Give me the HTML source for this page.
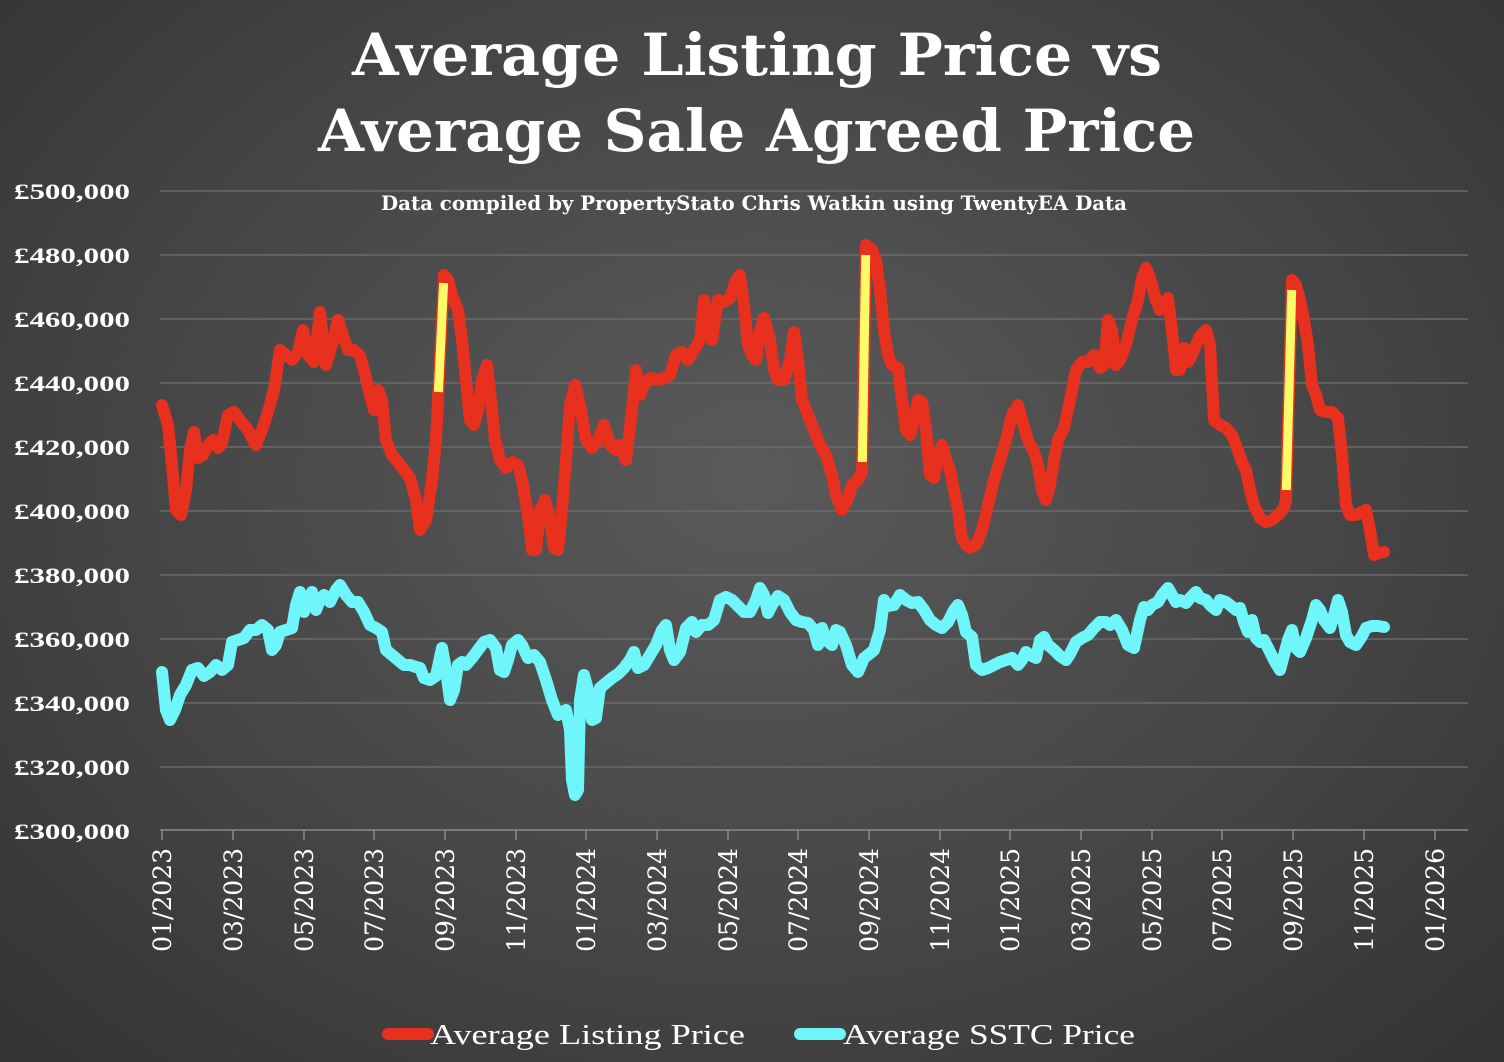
<!DOCTYPE html>
<html><head><meta charset="utf-8"><style>
html,body{margin:0;padding:0;}
body{width:1504px;height:1062px;overflow:hidden;background:radial-gradient(ellipse at 50% 45%,#5a5a5a 0%,#464646 55%,#333 100%);}
svg{display:block}
</style></head><body>
<svg width="1504" height="1062" xmlns="http://www.w3.org/2000/svg" font-family="'DejaVu Serif','Liberation Serif',serif">
<text x="352" y="75" textLength="810" lengthAdjust="spacingAndGlyphs" fill="#fff" font-size="58" font-weight="bold">Average Listing Price vs</text>
<text x="318" y="151" textLength="877" lengthAdjust="spacingAndGlyphs" fill="#fff" font-size="58" font-weight="bold">Average Sale Agreed Price</text>
<text x="381" y="210" textLength="746" lengthAdjust="spacingAndGlyphs" fill="#fff" font-size="20" font-weight="bold">Data compiled by PropertyStato Chris Watkin using TwentyEA Data</text>
<g stroke="#6a6a6a" stroke-width="1.5">
<line x1="160" y1="191" x2="1468" y2="191"/><line x1="160" y1="255" x2="1468" y2="255"/><line x1="160" y1="319" x2="1468" y2="319"/><line x1="160" y1="383" x2="1468" y2="383"/><line x1="160" y1="447" x2="1468" y2="447"/><line x1="160" y1="511" x2="1468" y2="511"/><line x1="160" y1="575" x2="1468" y2="575"/><line x1="160" y1="639" x2="1468" y2="639"/><line x1="160" y1="703" x2="1468" y2="703"/><line x1="160" y1="767" x2="1468" y2="767"/>
</g>
<g stroke="#8a8a8a" stroke-width="1.5">
<line x1="160" y1="830" x2="1468" y2="830"/>
<line x1="162" y1="830" x2="162" y2="840"/><line x1="233" y1="830" x2="233" y2="840"/><line x1="304" y1="830" x2="304" y2="840"/><line x1="374" y1="830" x2="374" y2="840"/><line x1="445" y1="830" x2="445" y2="840"/><line x1="516" y1="830" x2="516" y2="840"/><line x1="586" y1="830" x2="586" y2="840"/><line x1="657" y1="830" x2="657" y2="840"/><line x1="728" y1="830" x2="728" y2="840"/><line x1="798" y1="830" x2="798" y2="840"/><line x1="869" y1="830" x2="869" y2="840"/><line x1="940" y1="830" x2="940" y2="840"/><line x1="1010" y1="830" x2="1010" y2="840"/><line x1="1081" y1="830" x2="1081" y2="840"/><line x1="1152" y1="830" x2="1152" y2="840"/><line x1="1222" y1="830" x2="1222" y2="840"/><line x1="1293" y1="830" x2="1293" y2="840"/><line x1="1364" y1="830" x2="1364" y2="840"/><line x1="1435" y1="830" x2="1435" y2="840"/>
</g>
<g fill="#fff" font-size="22" font-weight="bold" text-anchor="start" font-family="'Liberation Serif',serif">
<text x="14" y="199" textLength="116" lengthAdjust="spacingAndGlyphs">£500,000</text><text x="14" y="263" textLength="116" lengthAdjust="spacingAndGlyphs">£480,000</text><text x="14" y="327" textLength="116" lengthAdjust="spacingAndGlyphs">£460,000</text><text x="14" y="391" textLength="116" lengthAdjust="spacingAndGlyphs">£440,000</text><text x="14" y="455" textLength="116" lengthAdjust="spacingAndGlyphs">£420,000</text><text x="14" y="519" textLength="116" lengthAdjust="spacingAndGlyphs">£400,000</text><text x="14" y="583" textLength="116" lengthAdjust="spacingAndGlyphs">£380,000</text><text x="14" y="647" textLength="116" lengthAdjust="spacingAndGlyphs">£360,000</text><text x="14" y="711" textLength="116" lengthAdjust="spacingAndGlyphs">£340,000</text><text x="14" y="775" textLength="116" lengthAdjust="spacingAndGlyphs">£320,000</text><text x="14" y="839" textLength="116" lengthAdjust="spacingAndGlyphs">£300,000</text>
</g>
<g fill="#fff" font-size="25" text-anchor="end">
<text transform="translate(171,848) rotate(-90)">01/2023</text><text transform="translate(242,848) rotate(-90)">03/2023</text><text transform="translate(313,848) rotate(-90)">05/2023</text><text transform="translate(383,848) rotate(-90)">07/2023</text><text transform="translate(454,848) rotate(-90)">09/2023</text><text transform="translate(525,848) rotate(-90)">11/2023</text><text transform="translate(595,848) rotate(-90)">01/2024</text><text transform="translate(666,848) rotate(-90)">03/2024</text><text transform="translate(737,848) rotate(-90)">05/2024</text><text transform="translate(807,848) rotate(-90)">07/2024</text><text transform="translate(878,848) rotate(-90)">09/2024</text><text transform="translate(949,848) rotate(-90)">11/2024</text><text transform="translate(1019,848) rotate(-90)">01/2025</text><text transform="translate(1090,848) rotate(-90)">03/2025</text><text transform="translate(1161,848) rotate(-90)">05/2025</text><text transform="translate(1231,848) rotate(-90)">07/2025</text><text transform="translate(1302,848) rotate(-90)">09/2025</text><text transform="translate(1373,848) rotate(-90)">11/2025</text><text transform="translate(1444,848) rotate(-90)">01/2026</text>
</g>
<polyline fill="none" stroke="#6ff6fb" stroke-width="12" stroke-linejoin="round" stroke-linecap="round" points="162,672 166,710 170,720 175,710 180,695 186,685 192,670 198,668 204,676 210,672 216,665 222,670 228,665 232,642 238,640 244,638 250,630 256,630 262,625 268,630 272,650 276,645 280,632 286,630 292,628 296,605 300,592 304,612 308,600 312,592 316,610 320,600 324,595 330,602 336,590 340,585 346,595 352,602 358,602 364,612 370,625 376,628 382,632 386,650 392,655 398,660 404,665 410,665 416,667 420,668 424,678 430,680 436,676 442,648 446,670 450,700 454,690 458,665 462,662 466,665 472,658 478,650 484,642 490,640 496,648 500,670 504,672 508,660 512,645 518,640 522,645 528,658 534,655 540,662 546,680 552,700 558,715 562,712 566,710 570,730 572,780 575,795 578,790 580,700 584,675 588,690 592,720 596,718 600,688 606,683 612,678 618,674 624,668 630,660 634,652 638,668 644,665 650,655 656,645 662,630 666,625 670,650 674,660 680,652 686,628 692,622 696,632 702,625 708,625 714,620 720,600 726,597 732,600 738,606 744,612 750,612 756,600 760,588 764,595 768,613 772,605 778,596 784,600 790,612 796,620 802,622 808,623 814,630 818,645 822,628 826,640 832,645 836,630 840,632 846,645 852,665 858,672 864,658 868,655 874,650 880,630 884,600 888,606 894,605 900,595 906,600 912,603 918,602 924,610 930,620 936,625 942,628 948,622 954,610 958,605 962,615 966,632 972,637 976,665 982,670 988,668 994,665 1000,662 1006,660 1012,658 1018,665 1022,660 1026,652 1030,655 1036,658 1040,640 1044,637 1048,645 1054,650 1060,656 1066,660 1070,654 1076,642 1082,638 1088,635 1094,628 1100,622 1106,622 1110,625 1116,620 1122,630 1128,645 1134,648 1140,620 1144,607 1148,610 1152,605 1158,602 1162,595 1168,588 1172,595 1176,602 1180,600 1186,603 1190,598 1196,592 1200,598 1206,600 1210,605 1216,610 1220,600 1226,602 1230,605 1236,610 1240,608 1244,622 1248,632 1252,620 1256,638 1260,642 1264,640 1268,648 1274,660 1280,670 1284,655 1288,640 1292,630 1296,648 1300,652 1306,638 1312,620 1316,605 1320,610 1324,620 1330,628 1334,615 1338,600 1342,612 1346,635 1350,642 1356,645 1362,636 1366,628 1372,626 1378,626 1384,627"/>
<polyline fill="none" stroke="#e8301f" stroke-width="12" stroke-linejoin="round" stroke-linecap="round" points="162,405 168,425 172,465 176,510 181,515 186,490 190,450 194,432 198,458 203,455 208,445 213,440 218,448 222,443 228,415 234,412 240,420 248,430 256,445 262,430 268,412 274,390 280,350 286,355 292,360 298,352 303,330 308,355 314,362 320,312 326,365 332,345 338,320 344,338 348,350 354,350 360,356 364,370 370,395 374,410 378,390 382,400 386,440 392,455 398,462 404,470 410,478 416,500 420,530 426,520 432,480 436,440 438,400 444,275 448,280 452,295 458,310 462,340 466,380 470,420 474,425 478,410 482,380 487,365 491,400 495,440 500,460 506,468 512,462 518,465 522,480 528,515 532,550 536,550 540,510 545,500 550,520 554,548 558,550 562,510 566,460 570,405 575,385 580,405 586,440 592,448 598,440 604,425 610,445 616,450 620,445 626,460 632,410 636,370 640,395 644,385 650,378 660,380 670,375 676,355 682,352 688,360 694,350 700,340 704,300 708,330 712,340 718,300 724,302 730,298 736,280 740,275 744,305 748,345 752,355 756,360 760,330 764,318 770,340 774,370 778,380 784,380 790,360 794,332 798,360 802,400 808,415 814,430 820,445 826,455 832,475 836,495 842,510 848,498 852,485 858,480 862,472 866,245 872,250 876,260 880,290 884,330 888,355 892,365 898,368 902,400 906,430 910,435 914,420 918,400 922,402 926,430 930,475 934,478 938,455 942,445 946,460 950,470 954,490 958,510 962,538 966,545 970,548 976,545 982,530 988,505 994,480 1000,460 1006,440 1012,415 1018,405 1022,420 1028,440 1034,452 1038,465 1042,490 1046,500 1050,485 1054,460 1058,440 1064,428 1070,400 1076,370 1082,362 1088,362 1094,355 1100,368 1104,365 1108,320 1112,330 1116,365 1120,360 1126,345 1132,320 1138,300 1142,278 1146,268 1150,278 1156,300 1160,310 1164,305 1168,298 1172,330 1176,370 1180,370 1184,348 1188,362 1192,355 1196,345 1200,336 1206,330 1210,345 1214,420 1220,425 1226,428 1232,435 1236,445 1242,462 1246,470 1250,490 1254,505 1260,518 1266,522 1272,520 1278,515 1284,508 1286,500 1292,280 1296,285 1300,300 1304,320 1308,345 1312,385 1316,395 1320,410 1326,412 1332,412 1338,418 1342,455 1346,505 1350,515 1356,515 1362,512 1366,510 1370,530 1374,555 1378,553 1384,552"/>
<g stroke="#fbfb6a" stroke-width="9" stroke-linecap="butt">
<line x1="438.4" y1="392" x2="443.6" y2="283"/>
<line x1="862.3" y1="462" x2="865.7" y2="255"/>
<line x1="1286.3" y1="490" x2="1291.7" y2="290"/>
</g>
<line x1="388" y1="1034" x2="428" y2="1034" stroke="#e8301f" stroke-width="12" stroke-linecap="round"/>
<text x="430" y="1044" textLength="315" lengthAdjust="spacingAndGlyphs" fill="#fff" font-size="29" font-family="'Liberation Serif',serif">Average Listing Price</text>
<line x1="800" y1="1034" x2="840" y2="1034" stroke="#6ff6fb" stroke-width="12" stroke-linecap="round"/>
<text x="843" y="1044" textLength="292" lengthAdjust="spacingAndGlyphs" fill="#fff" font-size="29" font-family="'Liberation Serif',serif">Average SSTC Price</text>
</svg>
</body></html>
